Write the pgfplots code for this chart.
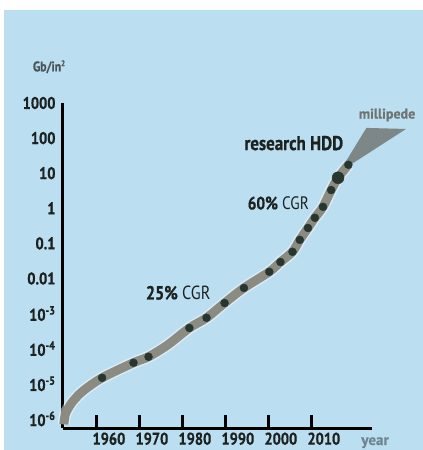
\documentclass[border=0pt]{standalone}
\usepackage{pgfplots}
\pgfplotsset{compat=1.18}
\usepackage{fontspec}
\setmainfont{PT Sans}[FakeStretch=0.85, BoldFeatures={FakeBold=0.6}]
\newfontfamily\widefont{PT Sans}[BoldFeatures={FakeBold=0.6}]

\definecolor{bgblue}{HTML}{BBDEF1}
\definecolor{curvegray}{HTML}{8B8B82}
\definecolor{dotc}{HTML}{283630}
\definecolor{wedge}{HTML}{7D8785}
\definecolor{millic}{HTML}{6E7472}
\definecolor{yearc}{HTML}{6F8690}
\definecolor{unitc}{HTML}{4A5558}
\definecolor{textc}{HTML}{1C2220}

\begin{document}
\begin{tikzpicture}
% page and panel
\fill[white] (-63pt,-22pt) rectangle (360pt,428pt);
\fill[bgblue] (-59pt,-22pt) rectangle (360pt,418pt);

\begin{axis}[
  at={(0pt,0pt)}, anchor=south west,
  scale only axis, width=309pt, height=325pt,
  xmin=1952.1, xmax=2024,
  ymode=log, ymin=5.5e-7, ymax=1000,
  axis lines=left,
  axis line style={-, line width=3pt, black},
  clip=false,
  xtick={1960,1970,1980,1990,2000,2010},
  xticklabels={1960,1970,1980,1990,2000,2010},
  tick align=inside,
  major tick length=13pt,
  xtick style={line width=3pt, black},
  ytick style={draw=none},
  yminorticks=false,
  ytick={1e-6,1e-5,1e-4,1e-3,0.01,0.1,1,10,100,1000},
  yticklabels={10\textsuperscript{-6},10\textsuperscript{-5},10\textsuperscript{-4},10\textsuperscript{-3},0.01,0.1,1,10,100,1000},
  xticklabel style={font=\bfseries\fontsize{17}{17}\selectfont, text=textc, xshift=12pt, yshift=-1pt},
  yticklabel style={font=\bfseries\fontsize{17}{17}\selectfont, text=textc, anchor=east, xshift=-4pt},
]
% millipede wedge
\addplot[fill=wedge, draw=none] coordinates {
  (2015.0,5.62) (2022.7,195) (2031.9,182) (2019.0,17.4)
} -- cycle;

% halo under the curve
\addplot[smooth, tension=0.5, line width=12pt, white, opacity=0.45] coordinates {
  (1952.3,7.0e-7) (1952.6,1.3e-6) (1953.3,2.0e-6) (1954.6,3.4e-6) (1956.8,6.3e-6)
  (1961.2,1.48e-5) (1968.5,3.98e-5) (1972.0,5.89e-5) (1976.5,1.29e-4)
  (1981.5,3.89e-4) (1985.5,7.59e-4) (1989.7,2.00e-3) (1994.2,5.37e-3)
  (2000.1,1.55e-2) (2002.7,2.95e-2) (2005.5,5.75e-2) (2007.2,0.126)
  (2009.1,0.275) (2010.7,0.537) (2012.6,1.10) (2014.5,3.31)
  (2016.1,7.41) (2018.5,17.4)
};
% the density curve
\addplot[smooth, tension=0.5, line width=9pt, curvegray] coordinates {
  (1952.3,7.0e-7) (1952.6,1.3e-6) (1953.3,2.0e-6) (1954.6,3.4e-6) (1956.8,6.3e-6)
  (1961.2,1.48e-5) (1968.5,3.98e-5) (1972.0,5.89e-5) (1976.5,1.29e-4)
  (1981.5,3.89e-4) (1985.5,7.59e-4) (1989.7,2.00e-3) (1994.2,5.37e-3)
  (2000.1,1.55e-2) (2002.7,2.95e-2) (2005.5,5.75e-2) (2007.2,0.126)
  (2009.1,0.275) (2010.7,0.537) (2012.6,1.10) (2014.5,3.31)
  (2016.1,7.41) (2018.5,17.4)
};
% products
\addplot[only marks, mark=*, mark size=4pt, mark options={fill=dotc, draw=dotc}] coordinates {
  (1961.2,1.48e-5) (1968.5,3.98e-5) (1972.0,5.89e-5)
  (1981.5,3.89e-4) (1985.5,7.59e-4) (1989.7,2.00e-3) (1994.2,5.37e-3)
  (2000.1,1.55e-2) (2002.7,2.95e-2) (2005.5,5.75e-2) (2007.2,0.126)
  (2009.1,0.275) (2010.7,0.537) (2012.6,1.10) (2014.5,3.31)
  (2018.5,17.4)
};
\addplot[only marks, mark=*, mark size=6pt, mark options={fill=dotc, draw=dotc}] coordinates {
  (2016.1,7.41)
};

% annotations
\node[font=\bfseries\fontsize{20}{20}\selectfont, text=textc] at (axis cs:2005.8,72) {research HDD};
\node[font=\fontsize{18}{18}\selectfont, text=textc] at (axis cs:2002.2,1.4) {\textbf{60\%} CGR};
\node[font=\fontsize{19}{19}\selectfont, text=textc] at (axis cs:1978.9,3.9e-3) {\textbf{25\%} CGR};
\node[font=\widefont\bfseries\fontsize{14}{14}\selectfont, text=millic] at (axis cs:2027.5,457) {millipede};
\node[font=\bfseries\fontsize{14}{14}\selectfont, text=unitc] at (axis cs:1948.9,1.07e4) {Gb/in\textsuperscript{\fontsize{8}{8}\selectfont 2}};
\node[font=\widefont\bfseries\fontsize{15}{15}\selectfont, text=yearc] at (axis cs:2024.7,2.1e-7) {year};
\end{axis}

\pgfresetboundingbox
\useasboundingbox (-63pt,-22pt) rectangle (360pt,428pt);
\end{tikzpicture}
\end{document}
